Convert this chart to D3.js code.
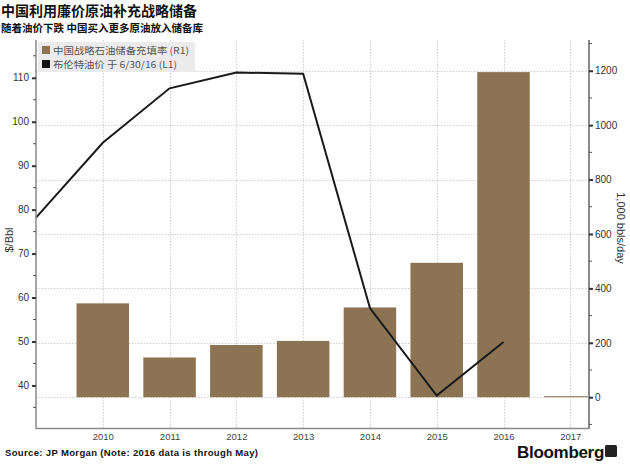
<!DOCTYPE html>
<html><head><meta charset="utf-8">
<script src="https://cdn.jsdelivr.net/npm/d3@7"></script>
<style>
body{margin:0;background:#fff;}
svg{display:block;}
text{font-family:"Liberation Sans",Arial,sans-serif;}
.cjk{font-family:"Noto Sans CJK SC","Noto Sans",sans-serif;}
</style></head>
<body>
<script>
const years = [2010, 2011, 2012, 2013, 2014, 2015, 2016, 2017];
const reserveFill = [345, 146, 192, 207, 330, 494, 1195, 0];        // R1, 1,000 bbls/day
const brentYears = [2009, 2010, 2011, 2012, 2013, 2014, 2015, 2016];
const brentPrice = [78.2, 95.2, 107.6, 111.2, 110.9, 57.6, 37.7, 49.9]; // L1, $/Bbl
const leftTicks = [40, 50, 60, 70, 80, 90, 100, 110];
const rightTicks = [0, 200, 400, 600, 800, 1000, 1200];
const titleText = "中国利用廉价原油补充战略储备";
const subtitleText = "随着油价下跌 中国买入更多原油放入储备库";
const legendLabels = ["中国战略石油储备充填率 (R1)", "布伦特油价 于 6/30/16 (L1)"];
const sourceText = "Source: JP Morgan (Note: 2016 data is through May)";

const W = 630, H = 473;
const plot = {left: 36, right: 589, top: 40, bottom: 428.5};
const svg = d3.select("body").append("svg").attr("width", W).attr("height", H);

const x = d3.scaleLinear().domain([2009, 2017.28]).range([plot.left, plot.right]);
const yL = d3.scaleLinear().domain([30.2, 118.6]).range([plot.bottom, plot.top]);
const yR = d3.scaleLinear().domain([-115, 1313]).range([plot.bottom, plot.top]);

// grid
const grid = svg.append("g").attr("stroke", "#cfcfcf").attr("stroke-dasharray", "1.5,1.5").attr("stroke-width", 1);
grid.selectAll(".vg").data(years).join("line")
  .attr("x1", d => Math.round(x(d)) + 0.5).attr("x2", d => Math.round(x(d)) + 0.5)
  .attr("y1", plot.top).attr("y2", plot.bottom);
grid.selectAll(".hg").data(rightTicks).join("line")
  .attr("x1", plot.left).attr("x2", plot.right)
  .attr("y1", d => Math.round(yR(d)) + 0.5).attr("y2", d => Math.round(yR(d)) + 0.5);

// bars
const bw = (x(2011) - x(2010)) * 0.786;
svg.append("clipPath").attr("id", "pc").append("rect")
  .attr("x", plot.left).attr("y", plot.top).attr("width", plot.right - plot.left).attr("height", plot.bottom - plot.top);
svg.append("g").attr("clip-path", "url(#pc)").selectAll("rect").data(years).join("rect")
  .attr("x", (d) => x(d) - bw / 2)
  .attr("y", (d, i) => Math.min(yR(reserveFill[i]), yR(0) - 1))
  .attr("width", bw)
  .attr("height", (d, i) => Math.max(yR(0) - yR(reserveFill[i]), 1))
  .attr("fill", "#8b7353");

// line
const line = d3.line().x((d, i) => x(brentYears[i])).y(d => yL(d));
svg.append("path").datum(brentPrice).attr("d", line)
  .attr("fill", "none").attr("stroke", "#1a1a1a").attr("stroke-width", 2).attr("stroke-linejoin", "miter");

// axes
const axCol = "#8a8a8a";
svg.append("line").attr("x1", plot.left).attr("x2", plot.left).attr("y1", plot.top).attr("y2", plot.bottom + 0.5).attr("stroke", axCol).attr("stroke-width", 1.5);
svg.append("line").attr("x1", plot.right).attr("x2", plot.right).attr("y1", plot.top).attr("y2", plot.bottom + 0.5).attr("stroke", axCol).attr("stroke-width", 2);
svg.append("line").attr("x1", plot.left).attr("x2", plot.right).attr("y1", plot.bottom).attr("y2", plot.bottom).attr("stroke", axCol).attr("stroke-width", 1.5);

// left axis
const gL = svg.append("g").attr("transform", `translate(${plot.left},0)`)
  .call(d3.axisLeft(yL).tickValues(leftTicks).tickSize(4).tickPadding(3).tickFormat(d3.format("d")));
gL.select(".domain").remove();
gL.selectAll(".tick line").attr("stroke", "#333").attr("stroke-width", 2);
gL.selectAll(".tick text").attr("fill", "#333").style("font-size", "10px").style("font-family", "Liberation Sans, Arial");
const minorL = d3.range(35, 119, 5).filter(v => v % 10 !== 0);
svg.append("g").selectAll("line").data(minorL).join("line")
  .attr("x1", plot.left - 3).attr("x2", plot.left).attr("y1", d => yL(d)).attr("y2", d => yL(d))
  .attr("stroke", "#555").attr("stroke-width", 1);

// right axis
const gR = svg.append("g").attr("transform", `translate(${plot.right},0)`)
  .call(d3.axisRight(yR).tickValues(rightTicks).tickSize(4).tickPadding(2).tickFormat(d3.format("d")));
gR.select(".domain").remove();
gR.selectAll(".tick line").attr("stroke", "#333").attr("stroke-width", 2);
gR.selectAll(".tick text").attr("fill", "#333").style("font-size", "10px").style("font-family", "Liberation Sans, Arial");
const minorR = d3.range(-100, 1301, 100).filter(v => v % 200 !== 0);
svg.append("g").selectAll("line").data(minorR).join("line")
  .attr("x1", plot.right).attr("x2", plot.right + 3).attr("y1", d => yR(d)).attr("y2", d => yR(d))
  .attr("stroke", "#555").attr("stroke-width", 1);

// x axis labels
const gX = svg.append("g").attr("transform", `translate(0,${plot.bottom})`)
  .call(d3.axisBottom(x).tickValues(years).tickSize(0).tickPadding(5).tickFormat(d3.format("d")));
gX.select(".domain").remove();
gX.selectAll(".tick text").attr("fill", "#444").style("font-size", "9.5px").style("font-family", "Liberation Sans, Arial");

// axis titles
svg.append("text").attr("transform", "translate(13,240) rotate(-90)").attr("text-anchor", "middle")
  .attr("fill", "#333").style("font-size", "11px").text("$/Bbl");
svg.append("text").attr("transform", "translate(617,228) rotate(90)").attr("text-anchor", "middle")
  .attr("fill", "#333").style("font-size", "11px").text("1,000 bbls/day");

// legend
const lg = svg.append("g");
lg.append("rect").attr("x", 38).attr("y", 42).attr("width", 157).attr("height", 30).attr("fill", "#ebebeb");
const lcol = ["#8b7353", "#111"];
const lw = [136, 124];
legendLabels.forEach((t, i) => {
  lg.append("rect").attr("x", 42).attr("y", 46 + i * 14).attr("width", 8).attr("height", 8).attr("fill", lcol[i]);
  lg.append("text").attr("class", "cjk").attr("x", 53).attr("y", 54 + i * 14).attr("fill", "#555")
    .style("font-size", "9.5px").attr("textLength", lw[i]).attr("lengthAdjust", "spacingAndGlyphs").text(t);
});

// titles
svg.append("text").attr("class", "cjk").attr("x", 1).attr("y", 16).attr("fill", "#111")
  .style("font-size", "14px").style("font-weight", "bold").text(titleText);
svg.append("text").attr("class", "cjk").attr("x", 1).attr("y", 32).attr("fill", "#111")
  .style("font-size", "10.5px").style("font-weight", "bold").text(subtitleText);

// source
svg.append("text").attr("x", 5).attr("y", 456).attr("fill", "#111")
  .style("font-size", "9.5px").style("font-weight", "bold").attr("textLength", 253).text(sourceText);

// Bloomberg
svg.append("text").attr("x", 517).attr("y", 458).attr("fill", "#111")
  .style("font-size", "17px").style("font-weight", "bold").style("letter-spacing", "-0.3px").text("Bloomberg");
svg.append("rect").attr("x", 605).attr("y", 445).attr("width", 12).attr("height", 12).attr("rx", 1.5).attr("fill", "#222");
</script>
</body></html>
